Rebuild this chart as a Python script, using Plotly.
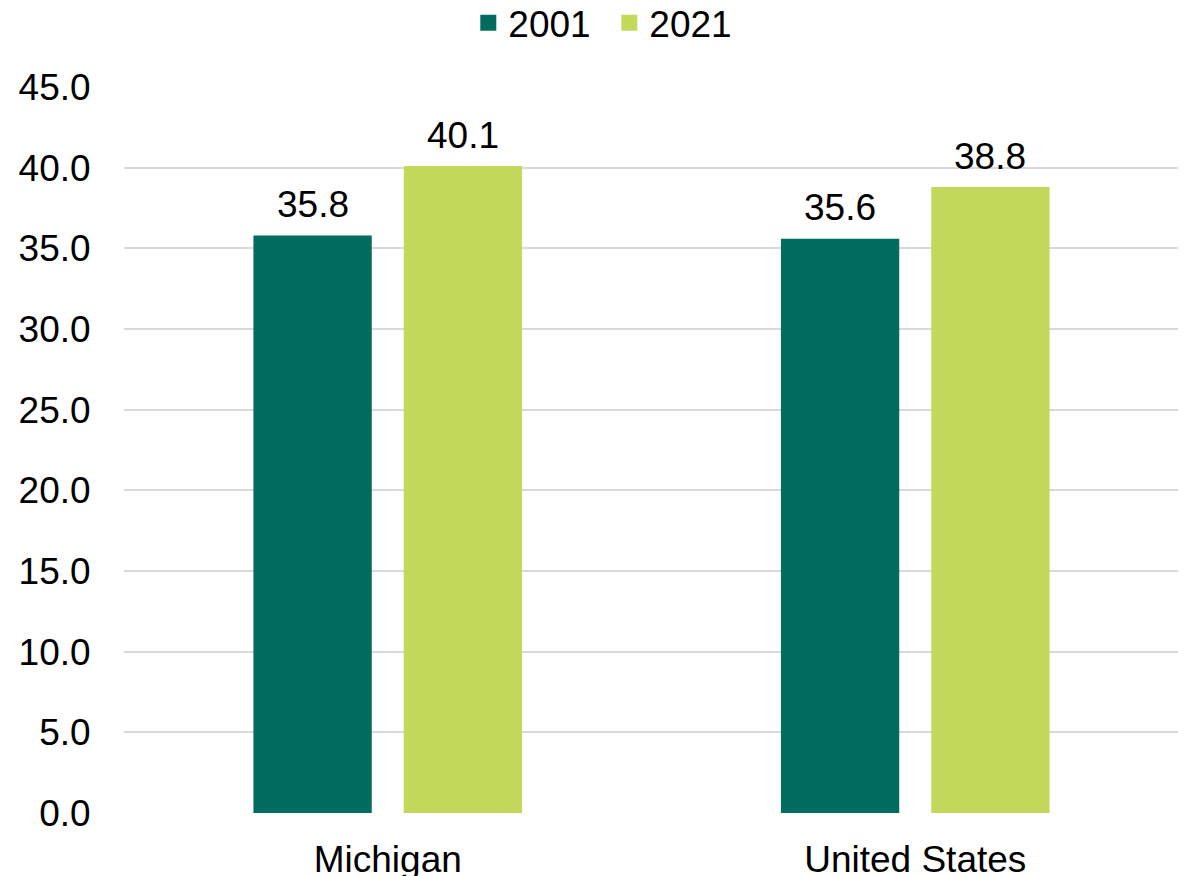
import plotly.graph_objects as go

categories = ["Michigan", "United States"]
series_names = ["2001", "2021"]
values_2001 = [35.8, 35.6]
values_2021 = [40.1, 38.8]
y_ticks = [0, 5, 10, 15, 20, 25, 30, 35, 40, 45]

colors = ["#016C5F", "#C2D95B"]
font_family = "Liberation Sans, Arial, sans-serif"
FS = 37
SLOT_SHIFT = [-75, 75]

fig = go.Figure()
for name, vals, col, shift in zip(series_names, [values_2001, values_2021], colors, SLOT_SHIFT):
    fig.add_trace(go.Bar(
        x=categories, y=vals, name=name, marker_color=col,
        marker_line_width=0, showlegend=False,
    ))
    fig.add_trace(go.Scatter(
        x=[None], y=[None], mode="markers", name=name,
        marker=dict(symbol="square", size=19, color=col),
        showlegend=True,
    ))
    for c, v in zip(categories, vals):
        fig.add_annotation(
            x=c, y=v, text=f"{v:.1f}", showarrow=False,
            xshift=shift, yshift=31, yanchor="middle", xanchor="center",
            font=dict(size=FS, color="#000000", family=font_family),
        )

# the page body adds an 8px margin, so the figure is 8px smaller than the window
fig.update_layout(
    width=1178, height=868,
    margin=dict(l=116, r=7, t=79, b=63, autoexpand=False),
    paper_bgcolor="white", plot_bgcolor="white",
    font=dict(family=font_family, size=FS, color="#000000"),
    barmode="group", bargap=0.43, bargroupgap=0.213,
    legend=dict(orientation="h", x=0.46, xanchor="center", y=1.088, yanchor="middle",
                font=dict(size=FS), itemwidth=30, entrywidth=96, traceorder="normal"),
    xaxis=dict(showgrid=False, zeroline=False, showline=False,
               ticks="outside", ticklen=14, tickcolor="rgba(0,0,0,0)"),
    yaxis=dict(range=[0, 45], tickvals=y_ticks, tickformat=".1f",
               showgrid=True, gridcolor="#D9D9D9", gridwidth=1.5,
               zeroline=False, showline=False,
               ticks="outside", ticklen=25, tickcolor="rgba(0,0,0,0)"),
)

fig.write_html("out.html")
